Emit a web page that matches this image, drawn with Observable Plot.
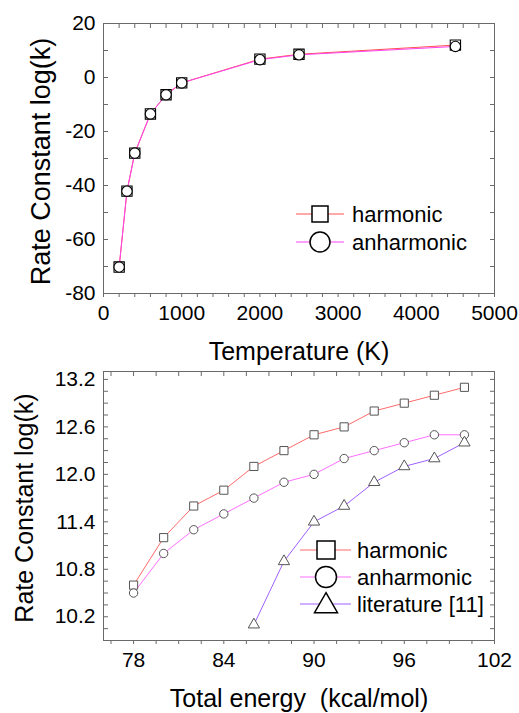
<!DOCTYPE html>
<html>
<head>
<meta charset="utf-8">
<script src="https://cdn.jsdelivr.net/npm/d3@7"></script>
<script src="https://cdn.jsdelivr.net/npm/@observablehq/plot@0.6"></script>
<style>
  html, body { margin: 0; padding: 0; background: #fff; }
  #chart svg { display: block; overflow: visible; }
</style>
</head>
<body>
<div id="chart"></div>
<script>
// ---------- Top panel data ----------
const temperature = [200, 300, 400, 600, 800, 1000, 2000, 2500, 4500];
const topHarmonic = [-70.2, -42.1, -28.0, -13.5, -6.4, -2.0, 6.8, 8.6, 12.0];
const topAnharmonic = [-70.2, -42.1, -28.0, -13.5, -6.4, -2.0, 6.6, 8.4, 11.5];
const topXTicks = [0, 1000, 2000, 3000, 4000, 5000];
const topYTicks = [-80, -60, -40, -20, 0, 20];
const topSeries = ["harmonic", "anharmonic"];

// ---------- Bottom panel data ----------
const energy = [78, 80, 82, 84, 86, 88, 90, 92, 94, 96, 98, 100];
const botHarmonic = [10.6, 11.2, 11.6, 11.8, 12.1, 12.3, 12.5, 12.6, 12.8, 12.9, 13.0, 13.1];
const botAnharmonic = [10.5, 11.0, 11.3, 11.5, 11.7, 11.9, 12.0, 12.2, 12.3, 12.4, 12.5, 12.5];
const litEnergy = [86, 88, 90, 92, 94, 96, 98, 100];
const literature = [10.1, 10.9, 11.4, 11.6, 11.9, 12.1, 12.2, 12.4];
const botXTicks = [78, 84, 90, 96, 102];
const botYTicks = [10.2, 10.8, 11.4, 12.0, 12.6, 13.2];
const botSeries = ["harmonic", "anharmonic", "literature [11]"];

const FONT = "'Liberation Sans', Arial, Helvetica, sans-serif";
const W = 519;
const frameColor = "#6a6a6a";

const topHarmRows = temperature.map((t, i) => ({x: t, y: topHarmonic[i]}));
const topAnhRows = temperature.map((t, i) => ({x: t, y: topAnharmonic[i]}));
const botHarmRows = energy.map((e, i) => ({x: e, y: botHarmonic[i]}));
const botAnhRows = energy.map((e, i) => ({x: e, y: botAnharmonic[i]}));
const litRows = litEnergy.map((e, i) => ({x: e, y: literature[i]}));

function frameAxes(xMinor, xMajor, yMinor, yMajor, xFmt, yFmt) {
  const blank = () => "";
  return [
    Plot.frame({stroke: frameColor}),
    // bottom: outward ticks
    Plot.axisX(xMinor, {anchor: "bottom", tickSize: 4, tickFormat: blank, label: null, stroke: frameColor}),
    Plot.axisX(xMajor, {anchor: "bottom", tickSize: 0, tickPadding: 12, tickFormat: xFmt, label: null, fontSize: 21, fill: "#000"}),
    // top: inward ticks
    Plot.axisX(xMinor, {anchor: "top", tickSize: -4, tickFormat: blank, label: null, stroke: frameColor}),
    // left: inward ticks + labels
    Plot.axisY(yMinor, {anchor: "left", tickSize: -5, tickFormat: blank, label: null, stroke: frameColor}),
    Plot.axisY(yMajor, {anchor: "left", tickSize: 0, tickPadding: 8, tickFormat: yFmt, label: null, fontSize: 21, fill: "#000"}),
    // right: inward ticks
    Plot.axisY(yMinor, {anchor: "right", tickSize: -5, tickFormat: blank, label: null, stroke: frameColor})
  ];
}

// ---------- Top plot ----------
const topPlot = Plot.plot({
  width: W,
  height: 366,
  marginLeft: 103,
  marginRight: 25,
  marginTop: 23,
  marginBottom: 73,
  style: {fontFamily: FONT, fontSize: "21px", color: "#000", background: "#fff"},
  x: {domain: [0, 5000]},
  y: {domain: [-80, 20]},
  marks: [
    ...frameAxes(d3.range(0, 5001, 200), topXTicks, d3.range(-80, 21, 10), topYTicks, d3.format("d"), d => String(d)),
    Plot.line(topHarmRows, {x: "x", y: "y", stroke: "#ff5050", strokeWidth: 1}),
    Plot.line(topAnhRows, {x: "x", y: "y", stroke: "#ff44ee", strokeWidth: 1}),
    Plot.dot(topHarmRows, {x: "x", y: "y", symbol: "square", r: 5.8, stroke: "#000", strokeWidth: 1.1, fill: "#fff"}),
    Plot.dot(topAnhRows, {x: "x", y: "y", symbol: "circle", r: 5.2, stroke: "#000", strokeWidth: 1.1, fill: "#fff"}),
    Plot.text(["Rate Constant log(k)"], {text: d => d, frameAnchor: "left", rotate: -90, dx: -62, dy: 3, fontSize: 27, lineAnchor: "middle", textAnchor: "middle", fill: "#000"}),
    Plot.text(["Temperature (K)"], {text: d => d, frameAnchor: "bottom", dy: 58, fontSize: 25, lineAnchor: "middle", textAnchor: "middle", fill: "#000"})
  ]
});

// ---------- Bottom plot ----------
const botPlot = Plot.plot({
  width: W,
  height: 347,
  marginLeft: 103,
  marginRight: 25,
  marginTop: 5,
  marginBottom: 73,
  style: {fontFamily: FONT, fontSize: "21px", color: "#000", background: "#fff"},
  x: {domain: [76, 102]},
  y: {domain: [9.9, 13.3]},
  marks: [
    ...frameAxes(d3.range(76.5, 102.01, 1.5), botXTicks, d3.range(10.05, 13.31, 0.15).map(v => +v.toFixed(2)), botYTicks, d3.format("d"), d3.format(".1f")),
    Plot.line(botHarmRows, {x: "x", y: "y", stroke: "#ff6a6a", strokeWidth: 1}),
    Plot.line(botAnhRows, {x: "x", y: "y", stroke: "#ff70ff", strokeWidth: 1}),
    Plot.line(litRows, {x: "x", y: "y", stroke: "#a060ff", strokeWidth: 1}),
    Plot.dot(botHarmRows, {x: "x", y: "y", symbol: "square", r: 4.6, stroke: "#555", strokeWidth: 1, fill: "#fff"}),
    Plot.dot(botAnhRows, {x: "x", y: "y", symbol: "circle", r: 4.2, stroke: "#555", strokeWidth: 1, fill: "#fff"}),
    Plot.dot(litRows, {x: "x", y: "y", symbol: "triangle", r: 4.2, stroke: "#555", strokeWidth: 1, fill: "#fff"}),
    Plot.text(["Rate Constant log(k)"], {text: d => d, frameAnchor: "left", rotate: -90, dx: -79, dy: 2, fontSize: 25, lineAnchor: "middle", textAnchor: "middle", fill: "#000"}),
    Plot.text(["Total energy\u00a0 (kcal/mol)"], {text: d => d, frameAnchor: "bottom", dy: 58, fontSize: 25, lineAnchor: "middle", textAnchor: "middle", fill: "#000"})
  ]
});

// ---------- Legends ----------
function addLegend(svg, names, colors, symbols, sizes, opt) {
  const g = d3.select(svg).append("g").attr("font-family", FONT).attr("font-size", opt.fontSize)
    .attr("text-anchor", "start");
  names.forEach((name, i) => {
    const y = opt.y0 + i * opt.step;
    g.append("line").attr("x1", opt.x1).attr("x2", opt.x2).attr("y1", y).attr("y2", y)
      .attr("stroke", colors[i]).attr("stroke-width", 1);
    g.append("path").attr("d", d3.symbol(symbols[i], sizes[i])())
      .attr("transform", `translate(${opt.xs},${y + (symbols[i] === d3.symbolTriangle ? 2 : 0)})`)
      .attr("fill", "#fff").attr("stroke", "#000").attr("stroke-width", 1.5);
    g.append("text").attr("x", opt.xt).attr("y", y).attr("dy", "0.35em").attr("fill", "#000")
      .attr("text-anchor", "start").text(name);
  });
}

addLegend(topPlot, topSeries, ["#ff5050", "#ff44ee"], [d3.symbolSquare, d3.symbolCircle], [16 * 16, Math.PI * 100],
  {x1: 296, x2: 344, xs: 320, xt: 352, y0: 214, step: 28, fontSize: 22});
addLegend(botPlot, botSeries, ["#ff6a6a", "#ff70ff", "#a060ff"], [d3.symbolSquare, d3.symbolCircle, d3.symbolTriangle],
  [18 * 18, Math.PI * 10.5 * 10.5, 23 * 23 * Math.sqrt(3) / 4],
  {x1: 300, x2: 351, xs: 326, xt: 357, y0: 184, step: 27, fontSize: 22});

const chart = document.getElementById("chart");
chart.appendChild(topPlot);
chart.appendChild(botPlot);
</script>
</body>
</html>
